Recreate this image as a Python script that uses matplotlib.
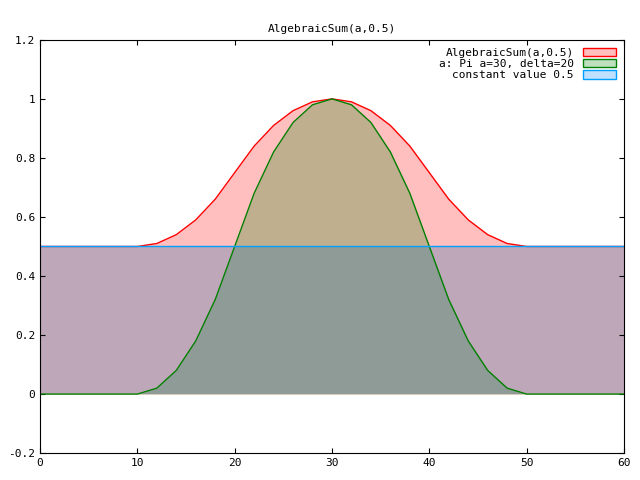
import matplotlib
matplotlib.use("Agg")
import matplotlib.pyplot as plt
from matplotlib.patches import Patch

plt.rcParams['font.family'] = ['DejaVu Sans Mono']
plt.rcParams['font.size'] = 8

# values
x = [0, 10, 12, 14, 16, 18, 20, 22, 24, 26, 28, 30, 32, 34, 36, 38, 40, 42, 44, 46, 48, 50, 60]
pi_a = [0, 0, 0.02, 0.08, 0.18, 0.32, 0.5, 0.68, 0.82, 0.92, 0.98, 1.0,
        0.98, 0.92, 0.82, 0.68, 0.5, 0.32, 0.18, 0.08, 0.02, 0, 0]
alg_sum = [0.5, 0.5, 0.51, 0.54, 0.59, 0.66, 0.75, 0.84, 0.91, 0.96, 0.99, 1.0,
           0.99, 0.96, 0.91, 0.84, 0.75, 0.66, 0.59, 0.54, 0.51, 0.5, 0.5]
const = [0.5] * len(x)

fig, ax = plt.subplots(figsize=(6.4, 4.8), dpi=100)
fig.subplots_adjust(left=0.0625, right=0.975, top=0.917, bottom=0.056)

ax.fill_between(x, 0, alg_sum, color='red', alpha=0.25, lw=0)
ax.plot(x, alg_sum, color='red', lw=1)
ax.fill_between(x, 0, pi_a, color='green', alpha=0.25, lw=0)
ax.plot(x, pi_a, color='green', lw=1)
ax.fill_between(x, 0, const, color='#0060ad', alpha=0.25, lw=0)
ax.plot(x, const, color='#00a0ff', lw=1)

ax.set_xlim(0, 60)
ax.set_ylim(-0.2, 1.2)
ax.set_xticks(range(0, 61, 10))
ax.set_yticks([-0.2, 0, 0.2, 0.4, 0.6, 0.8, 1, 1.2])
ax.set_yticklabels(['-0.2', '0', '0.2', '0.4', '0.6', '0.8', '1', '1.2'])
ax.tick_params(direction='in', top=True, right=True)
ax.set_title('AlgebraicSum(a,0.5)', fontsize=8)

handles = [Patch(facecolor='#ffbfbf', edgecolor='red', label='AlgebraicSum(a,0.5)'),
           Patch(facecolor='#bfe0bf', edgecolor='green', label='a: Pi a=30, delta=20'),
           Patch(facecolor='#bfe0ff', edgecolor='#00a0ff', label='constant value 0.5')]
ax.legend(handles=handles, loc='upper right', frameon=False, markerfirst=False,
          handlelength=3, handleheight=0.8, labelspacing=0.1, borderaxespad=0.3)

fig.savefig('out.png')
